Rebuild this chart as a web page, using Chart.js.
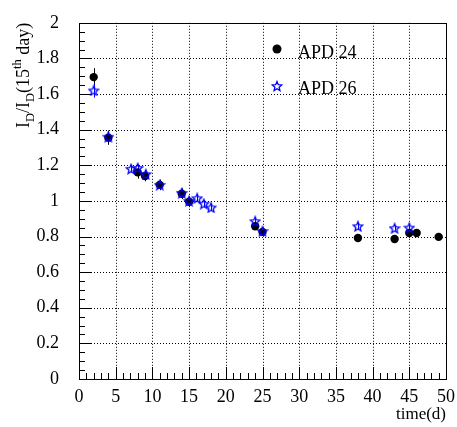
<!DOCTYPE html>
<html>
<head>
<meta charset="utf-8">
<script src="https://cdn.jsdelivr.net/npm/chart.js@4/dist/chart.umd.min.js"></script>
<style>
html,body{margin:0;padding:0;background:#fff;}
#wrap{width:457px;height:427px;position:relative;}
</style>
</head>
<body>
<div id="wrap"><canvas id="c" width="457" height="427"></canvas></div>
<script>
// ---- data ----
const apd24Days  = [2, 4, 8, 9, 11, 14, 15, 24, 25, 38, 43, 45, 46, 49];
const apd24Ratio = [1.695, 1.355, 1.16, 1.14, 1.09, 1.04, 0.995, 0.858, 0.826, 0.792, 0.786, 0.82, 0.82, 0.798];
const apd24Err   = [0.05, 0.04, 0.035, 0.03, 0.03, 0.03, 0.03, 0.02, 0.015, 0.01, 0.01, 0.01, 0.01, 0.01];

const apd26Days  = [2, 4, 7.1, 8, 9.1, 11, 14, 15, 16.1, 17, 18, 24, 25, 38, 43, 45];
const apd26Ratio = [1.62, 1.36, 1.18, 1.185, 1.15, 1.09, 1.045, 1.0, 1.015, 0.984, 0.963, 0.886, 0.83, 0.858, 0.847, 0.85];
const apd26Err   = [0.04, 0.03, 0.02, 0.02, 0.02, 0.02, 0.02, 0.02, 0.02, 0.02, 0.02, 0.02, 0.015, 0.02, 0.015, 0.015];

const xTickValues = [0, 5, 10, 15, 20, 25, 30, 35, 40, 45, 50];
const yTickValues = [0, 0.2, 0.4, 0.6, 0.8, 1, 1.2, 1.4, 1.6, 1.8, 2];
const seriesNames = ["APD 24", "APD 26"];

const SERIF = "'Liberation Serif', 'DejaVu Serif', serif";

function pts(xs, ys) { return xs.map((x, i) => ({x: x, y: ys[i]})); }

function makeStar(size, color) {
  const c = document.createElement('canvas');
  c.width = size; c.height = size;
  const g = c.getContext('2d');
  const cx = size / 2, cy = size / 2, R = size / 2 - 1, r = R * 0.45;
  g.beginPath();
  for (let i = 0; i < 10; i++) {
    const rad = i % 2 === 0 ? R : r;
    const a = -Math.PI / 2 + i * Math.PI / 5;
    const px = cx + rad * Math.cos(a), py = cy + rad * Math.sin(a) + 0.5;
    if (i === 0) g.moveTo(px, py); else g.lineTo(px, py);
  }
  g.closePath();
  g.strokeStyle = color; g.lineWidth = 1.3;
  g.stroke();
  return c;
}
const starImg = makeStar(12, '#0000ff');

const framePlugin = {
  id: 'rootFrame',
  beforeDatasetsDraw(chart) {
    const ctx = chart.ctx, a = chart.chartArea;
    const xs = chart.scales.x, ys = chart.scales.y;
    ctx.save();
    // dotted grid
    ctx.strokeStyle = '#000'; ctx.lineWidth = 1; ctx.setLineDash([1, 2]);
    xTickValues.forEach(v => {
      const px = Math.round(xs.getPixelForValue(v)) + 0.5;
      if (px <= a.left + 1 || px >= a.right - 1) return;
      ctx.beginPath(); ctx.moveTo(px, a.top); ctx.lineTo(px, a.bottom); ctx.stroke();
    });
    yTickValues.forEach(v => {
      const py = Math.round(ys.getPixelForValue(v)) + 0.5;
      if (py <= a.top + 1 || py >= a.bottom - 1) return;
      ctx.beginPath(); ctx.moveTo(a.left, py); ctx.lineTo(a.right, py); ctx.stroke();
    });
    ctx.setLineDash([]);
    // frame
    ctx.strokeStyle = '#000'; ctx.lineWidth = 1;
    ctx.strokeRect(Math.round(a.left) + 0.5, Math.round(a.top) + 0.5,
                   Math.round(a.right - a.left), Math.round(a.bottom - a.top));
    // ticks
    ctx.beginPath();
    for (let v = 0; v <= 50.001; v += 1) {
      const px = Math.round(xs.getPixelForValue(v)) + 0.5;
      const len = (Math.abs(v % 5) < 1e-6) ? 12 : 6;
      ctx.moveTo(px, a.bottom); ctx.lineTo(px, a.bottom - len);
    }
    for (let k = 0; k <= 40; k++) {
      const v = k * 0.05;
      const py = Math.round(ys.getPixelForValue(v)) + 0.5;
      const len = (k % 4 === 0) ? 12 : 6;
      ctx.moveTo(a.left, py); ctx.lineTo(a.left + len, py);
    }
    ctx.stroke();
    // error bars
    const drawErr = (xsArr, yArr, eArr, col) => {
      ctx.strokeStyle = col; ctx.lineWidth = 1;
      ctx.beginPath();
      xsArr.forEach((x, i) => {
        const px = Math.round(xs.getPixelForValue(x)) + 0.5;
        ctx.moveTo(px, ys.getPixelForValue(yArr[i] - eArr[i]));
        ctx.lineTo(px, ys.getPixelForValue(yArr[i] + eArr[i]));
      });
      ctx.stroke();
    };
    drawErr(apd24Days, apd24Ratio, apd24Err, '#000');
    drawErr(apd26Days, apd26Ratio, apd26Err, '#0000ff');
    ctx.restore();
  },
  afterDraw(chart) {
    const ctx = chart.ctx, a = chart.chartArea;
    ctx.save();
    ctx.fillStyle = '#000';
    // x title
    ctx.font = '17px ' + SERIF;
    ctx.textAlign = 'right'; ctx.textBaseline = 'alphabetic';
    ctx.fillText('time(d)', a.right, 419);
    // y title with sub/superscripts, rotated, right-aligned to top
    const big = 18, small = 12.5;
    const parts = [
      {t: 'I', f: big, dy: 0},
      {t: 'D', f: small, dy: 5},
      {t: '/I', f: big, dy: 0},
      {t: 'D', f: small, dy: 5},
      {t: '(15', f: big, dy: 0},
      {t: 'th', f: small, dy: -8},
      {t: ' day)', f: big, dy: 0}
    ];
    let W = 0;
    parts.forEach(p => { ctx.font = p.f + 'px ' + SERIF; p.w = ctx.measureText(p.t).width; W += p.w; });
    ctx.translate(29, a.top + W);
    ctx.rotate(-Math.PI / 2);
    ctx.textAlign = 'left';
    let x = 0;
    parts.forEach(p => { ctx.font = p.f + 'px ' + SERIF; ctx.fillText(p.t, x, p.dy); x += p.w; });
    ctx.restore();
    // legend
    ctx.save();
    ctx.fillStyle = '#000';
    ctx.beginPath(); ctx.arc(277, 49, 4.5, 0, Math.PI * 2); ctx.fill();
    ctx.drawImage(starImg, 277 - 6, 86 - 6);
    ctx.font = '18px ' + SERIF;
    ctx.textAlign = 'left'; ctx.textBaseline = 'middle';
    ctx.fillText(seriesNames[0], 298, 53);
    ctx.fillText(seriesNames[1], 298, 89);
    ctx.restore();
  }
};

new Chart(document.getElementById('c'), {
  type: 'scatter',
  data: {
    datasets: [
      {
        label: seriesNames[1],
        data: pts(apd26Days, apd26Ratio),
        pointStyle: starImg,
        order: 0,
        clip: 0
      },
      {
        label: seriesNames[0],
        data: pts(apd24Days, apd24Ratio),
        pointStyle: 'circle',
        pointRadius: 4.2,
        backgroundColor: '#000',
        borderColor: '#000',
        borderWidth: 0,
        order: 1,
        clip: 0
      }
    ]
  },
  options: {
    responsive: false,
    animation: false,
    devicePixelRatio: 1,
    layout: {padding: {top: 13, right: 11, left: 0, bottom: 0}},
    plugins: {legend: {display: false}, tooltip: {enabled: false}},
    scales: {
      x: {
        type: 'linear', min: 0, max: 50,
        afterBuildTicks: s => { s.ticks = xTickValues.map(v => ({value: v})); },
        afterFit: s => { s.height = 48; },
        grid: {display: false}, border: {display: false},
        ticks: {color: '#000', font: {family: SERIF, size: 18}, padding: -1, maxRotation: 0,
                callback: v => String(v)}
      },
      y: {
        type: 'linear', min: 0, max: 2,
        afterBuildTicks: s => { s.ticks = yTickValues.map(v => ({value: v})); },
        afterFit: s => { s.width = 79; },
        grid: {display: false}, border: {display: false},
        ticks: {color: '#000', font: {family: SERIF, size: 18}, padding: 12,
                callback: v => String(Number(v.toFixed(1)))}
      }
    }
  },
  plugins: [framePlugin]
});
</script>
</body>
</html>
